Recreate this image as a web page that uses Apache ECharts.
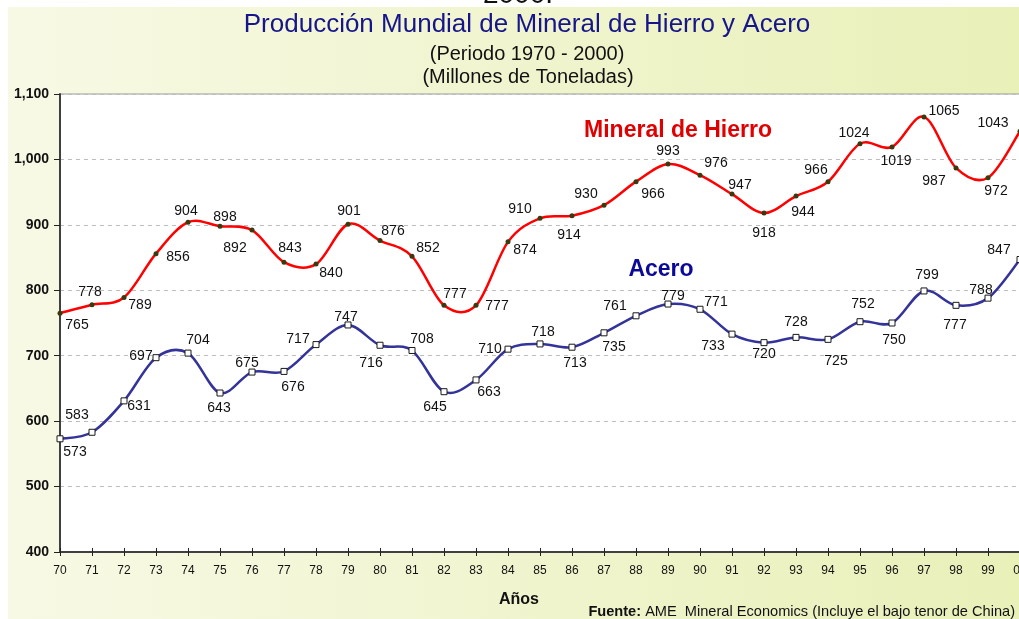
<!DOCTYPE html>
<html><head><meta charset="utf-8">
<script src="https://cdn.jsdelivr.net/npm/echarts@6/dist/echarts.min.js"></script>
<style>html,body{margin:0;padding:0;background:#fff}#c{width:1019px;height:619px}</style>
</head><body><div id="c"></div>
<script>
const years = ['70','71','72','73','74','75','76','77','78','79','80','81','82','83','84','85','86','87','88','89','90','91','92','93','94','95','96','97','98','99','00'];
const hierro = [765,778,789,856,904,898,892,843,840,901,876,852,777,777,874,910,914,930,966,993,976,947,918,944,966,1024,1019,1065,987,972,1043];
const acero = [573,583,631,697,704,643,675,676,717,747,716,708,645,663,710,718,713,735,761,779,771,733,720,728,725,752,750,799,777,788,847];
const yTicks = [400,500,600,700,800,900,1000,1100];

// label offsets (dx, dy) relative to each point
const hierroLab = [[17,12],[-2,-13],[16,8],[22,3],[-2,-11],[5,-9],[-17,18],[6,-14],[15,9],[1,-13],[13,-9],[16,-8],[11,-11],[21,1],[17,8],[-20,-9],[-3,19],[-18,-11],[17,12],[0,-13],[16,-12],[8,-9],[0,20],[7,16],[-12,-12],[-6,-11],[4,14],[20,-6],[-22,13],[8,13],[-27,-8]];
const aceroLab = [[15,13],[-15,-17],[15,5],[-15,-2],[10,-13],[-1,15],[-5,-9],[9,16],[-18,-5],[-2,-8],[-9,18],[10,-11],[-9,15],[13,12],[-18,0],[3,-12],[3,16],[10,14],[-21,-10],[5,-8],[16,-7],[-19,12],[0,12],[0,-15],[8,22],[3,-18],[2,17],[3,-16],[-1,20],[-7,-8],[-21,-9]];

const FONT = '"Liberation Sans", Arial, sans-serif';
function mk(vals, offs){
  return vals.map((v,i)=>({value:v,label:{offset:offs[i]}}));
}
// smooth curve (Catmull-Rom style Bezier) through points given by the axes
function curveSeries(vals, color){
  return {
    type:'custom', z:2, silent:true,
    data: vals.map((v,i)=>[i,v]),
    encode:{x:0,y:1},
    renderItem:(params, api)=>{
      if(params.dataIndex!==0) return null;
      const p = vals.map((v,i)=>api.coord([i,v]));
      const n = p.length;
      let d = 'M'+p[0][0]+','+p[0][1];
      for(let i=0;i<n-1;i++){
        const p0=p[Math.max(i-1,0)], p1=p[i], p2=p[i+1], p3=p[Math.min(i+2,n-1)];
        const c1x=p1[0]+(p2[0]-p0[0])/6, c1y=p1[1]+(p2[1]-p0[1])/6;
        const c2x=p2[0]-(p3[0]-p1[0])/6, c2y=p2[1]-(p3[1]-p1[1])/6;
        d+=' C'+c1x+','+c1y+' '+c2x+','+c2y+' '+p2[0]+','+p2[1];
      }
      return {type:'path',shape:{pathData:d},style:{stroke:color,lineWidth:2.5,fill:null}};
    }
  };
}
const chart = echarts.init(document.getElementById('c'));
chart.setOption({
  animation:false,
  backgroundColor:'#ffffff',
  textStyle:{fontFamily:FONT},
  graphic:[
    {type:'rect',z:-10,shape:{x:8,y:7,width:1011,height:612},
     style:{fill:new echarts.graphic.LinearGradient(0,0,1,0,[{offset:0,color:'#f8f9e5'},{offset:1,color:'#e9f0b8'}])}},
    {type:'text',x:518,y:9,style:{text:'2000.',font:'28px '+FONT,fill:'#111',align:'center',verticalAlign:'bottom'},z:5},
    {type:'text',x:527,y:25,style:{text:'Producción Mundial de Mineral de Hierro y Acero',font:'26px '+FONT,fill:'#16168a',align:'center',verticalAlign:'middle'},z:5},
    {type:'text',x:527,y:54,style:{text:'(Periodo 1970 - 2000)',font:'20px '+FONT,fill:'#111',align:'center',verticalAlign:'middle'},z:5},
    {type:'text',x:528,y:77,style:{text:'(Millones de Toneladas)',font:'20px '+FONT,fill:'#111',align:'center',verticalAlign:'middle'},z:5},
    {type:'text',x:678,y:131,style:{text:'Mineral de Hierro',font:'bold 23px '+FONT,fill:'#e00000',align:'center',verticalAlign:'middle'},z:5},
    {type:'text',x:661,y:270,style:{text:'Acero',font:'bold 23px '+FONT,fill:'#0a0a96',align:'center',verticalAlign:'middle'},z:5},
    {type:'text',x:519,y:600,style:{text:'Años',font:'bold 16px '+FONT,fill:'#111',align:'center',verticalAlign:'middle'},z:5},
    {type:'text',x:1015,y:612,style:{text:'{b|Fuente:} AME  Mineral Economics (Incluye el bajo tenor de China)',font:'14.6px '+FONT,fill:'#111',align:'right',verticalAlign:'middle',
      rich:{b:{fontWeight:'bold',fontSize:14.6,fontFamily:FONT,fill:'#111'}}},z:5}
  ],
  grid:{left:60,top:94,width:960,height:458,outerBoundsMode:'none',containLabel:false,show:true,backgroundColor:'#ffffff',borderColor:'#9a9a9a',borderWidth:1},
  xAxis:[{
    type:'category',data:years,boundaryGap:false,
    axisLine:{lineStyle:{color:'#404040',width:2}},
    axisTick:{show:true,length:4,interval:0,lineStyle:{color:'#222',width:1}},
    axisLabel:{interval:0,color:'#111',fontSize:12,margin:13,fontFamily:FONT},
    splitLine:{show:false}
  },{
    type:'category',data:years,boundaryGap:false,position:'bottom',
    axisLine:{show:false},
    axisTick:{show:true,inside:true,length:4,interval:0,lineStyle:{color:'#222',width:1}},
    axisLabel:{show:false},splitLine:{show:false}
  }],
  yAxis:{
    type:'value',min:yTicks[0],max:yTicks[yTicks.length-1],interval:100,
    axisLine:{show:true,lineStyle:{color:'#404040',width:2}},
    axisTick:{show:true,length:6,lineStyle:{color:'#222',width:1}},
    axisLabel:{color:'#111',fontSize:14,fontWeight:'bold',margin:11,fontFamily:FONT,
      formatter:v=>v.toLocaleString('en-US')},
    splitLine:{show:true,lineStyle:{color:'#bdbdbd',type:[4,4],width:1}}
  },
  series:[
    curveSeries(hierro,'#ff0000'),
    curveSeries(acero,'#333399'),
  {
    name:'Mineral de Hierro',type:'line',data:mk(hierro,hierroLab),
    symbol:'circle',symbolSize:5,
    lineStyle:{width:0,opacity:0},
    itemStyle:{color:'#3a3a10'},
    label:{show:true,position:'inside',align:'center',verticalAlign:'middle',color:'#111',fontSize:14,fontFamily:FONT},
    z:3
  },{
    name:'Acero',type:'line',data:mk(acero,aceroLab),
    symbol:'rect',symbolSize:6,
    lineStyle:{width:0,opacity:0},
    itemStyle:{color:'#ffffff',borderColor:'#1a1a1a',borderWidth:1},
    label:{show:true,position:'inside',align:'center',verticalAlign:'middle',color:'#111',fontSize:14,fontFamily:FONT},
    z:3
  }]
});
</script></body></html>
